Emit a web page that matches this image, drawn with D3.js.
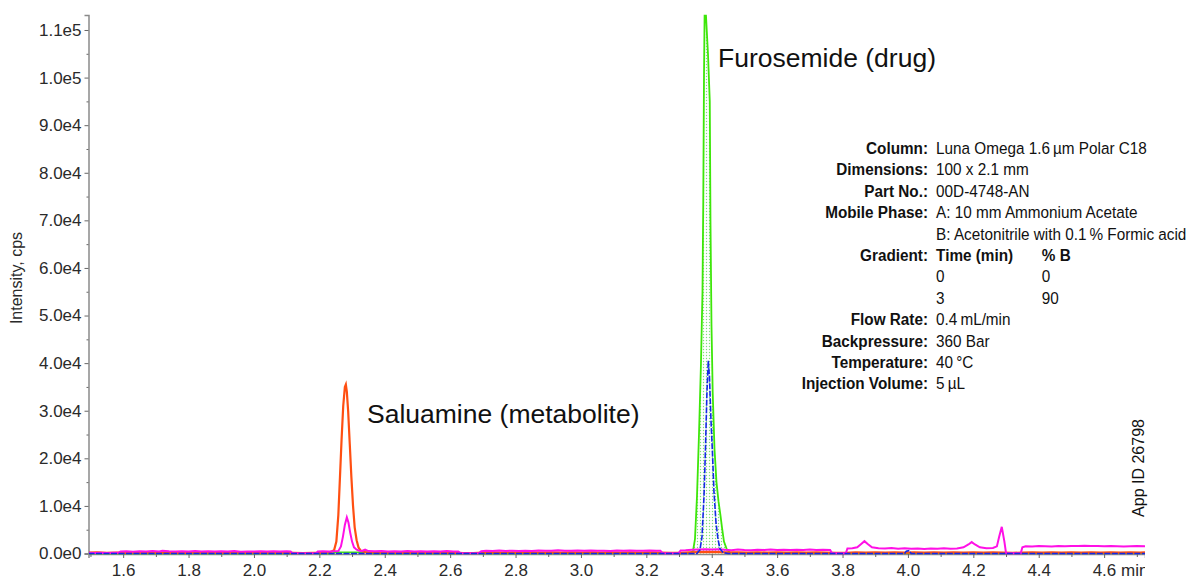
<!DOCTYPE html>
<html>
<head>
<meta charset="utf-8">
<script src="https://cdn.jsdelivr.net/npm/d3@7"></script>
<style>
  body { margin: 0; background: #fff; }
  #chart { width: 1194px; height: 581px; }
  text { font-family: "Liberation Sans", Arial, sans-serif; }
</style>
</head>
<body>
<div id="chart"></div>
<script>
// chromatogram traces, [time (min), intensity (cps)]
var saluamineTrace = [
  [1.494,180],[1.52,220],[1.55,150],[1.58,200],[1.61,140],[1.64,210],[1.67,160],[1.70,230],[1.73,150],[1.76,190],
  [1.79,140],[1.82,220],[1.85,170],[1.88,200],[1.91,140],[1.94,210],[1.97,160],[2.00,190],[2.03,140],[2.06,220],
  [2.09,160],[2.12,120],[2.15,100],[2.18,120],[2.21,180],[2.235,300],[2.245,700],[2.252,2500],[2.258,8000],[2.263,16000],
  [2.268,24000],[2.273,31000],[2.278,35000],[2.281,35500],[2.284,34000],[2.288,30000],[2.293,23000],[2.298,16000],[2.303,10000],[2.308,5500],
  [2.314,2800],[2.320,1200],[2.328,500],[2.34,300],[2.37,220],[2.40,170],[2.43,210],[2.46,150],[2.49,200],[2.52,160],
  [2.55,220],[2.58,150],[2.61,190],[2.64,110],[2.67,100],[2.70,200],[2.73,240],[2.76,170],[2.79,230],[2.82,180],
  [2.85,250],[2.88,190],[2.91,230],[2.94,170],[2.97,240],[3.00,200],[3.03,260],[3.06,190],[3.09,230],[3.12,180],
  [3.15,250],[3.18,200],[3.21,230],[3.24,190],[3.27,120],[3.30,150],[3.33,250],[3.36,300],[3.39,350],[3.42,300],
  [3.45,250],[3.48,220],[3.51,180],[3.54,240],[3.57,200],[3.60,230],[3.63,180],[3.66,250],[3.69,200],[3.72,230],
  [3.75,180],[3.78,130],[3.81,150],[3.84,230],[3.87,200],[3.90,250],[3.93,190],[3.96,230],[3.99,200],[4.02,250],
  [4.05,190],[4.08,230],[4.11,180],[4.14,240],[4.17,200],[4.20,230],[4.23,180],[4.26,240],[4.29,170],[4.32,130],
  [4.35,200],[4.38,250],[4.41,190],[4.44,230],[4.47,180],[4.50,250],[4.53,200],[4.56,230],[4.59,190],[4.62,250],
  [4.65,200],[4.68,230],[4.71,190],[4.725,220]
];

var qualifierTrace = [
  [1.494,150],[1.51,120],[1.53,160],[1.55,130],[1.57,150],[1.585,140],[1.592,420],[1.61,470],[1.63,390],[1.65,450],
  [1.67,410],[1.69,500],[1.71,430],[1.72,560],[1.74,450],[1.76,400],[1.78,480],[1.80,420],[1.82,520],[1.84,440],
  [1.86,470],[1.88,400],[1.90,460],[1.92,420],[1.94,500],[1.96,380],[1.98,430],[2.00,400],[2.02,460],[2.04,410],
  [2.06,480],[2.08,430],[2.10,470],[2.112,420],[2.118,40],[2.15,30],[2.19,40],[2.195,420],[2.21,470],[2.23,400],
  [2.245,450],[2.258,500],[2.266,1500],[2.272,3500],[2.278,6000],[2.284,7600],[2.289,6500],[2.294,4500],[2.300,2500],[2.306,1300],
  [2.314,800],[2.322,600],[2.33,550],[2.34,800],[2.35,500],[2.37,460],[2.39,520],[2.41,430],[2.43,480],[2.45,420],
  [2.47,500],[2.49,440],[2.51,470],[2.53,420],[2.55,480],[2.57,430],[2.59,500],[2.61,440],[2.625,420],[2.632,40],
  [2.66,30],[2.688,40],[2.695,480],[2.71,560],[2.73,500],[2.75,620],[2.77,540],[2.79,600],[2.81,520],[2.83,580],
  [2.85,540],[2.87,620],[2.89,560],[2.91,600],[2.93,680],[2.95,600],[2.97,560],[2.99,640],[3.01,580],[3.03,620],
  [3.05,560],[3.07,600],[3.09,540],[3.11,620],[3.13,580],[3.15,640],[3.17,600],[3.19,560],[3.21,620],[3.23,580],
  [3.243,600],[3.25,40],[3.28,30],[3.298,40],[3.305,650],[3.32,700],[3.34,800],[3.36,850],[3.38,900],[3.40,850],
  [3.42,900],[3.44,780],[3.46,700],[3.48,820],[3.50,740],[3.52,700],[3.54,800],[3.56,760],[3.58,820],[3.60,740],
  [3.62,780],[3.64,720],[3.66,800],[3.68,760],[3.70,820],[3.72,760],[3.74,780],[3.762,760],[3.768,40],[3.79,30],
  [3.81,40],[3.815,1050],[3.83,1100],[3.845,1300],[3.857,2000],[3.867,2600],[3.877,2000],[3.89,1300],[3.91,1100],[3.93,1050],
  [3.95,1150],[3.97,1000],[3.99,1100],[4.01,1000],[4.03,1050],[4.05,950],[4.07,1050],[4.09,1000],[4.11,1100],[4.13,1000],
  [4.15,1050],[4.17,1300],[4.185,1900],[4.195,2400],[4.205,1900],[4.22,1300],[4.24,1100],[4.26,1150],[4.272,1500],[4.279,3500],
  [4.287,5600],[4.295,2500],[4.300,100],[4.302,40],[4.32,30],[4.345,40],[4.35,1300],[4.36,1500],[4.38,1450],[4.40,1550],
  [4.42,1500],[4.44,1450],[4.46,1550],[4.48,1500],[4.50,1550],[4.52,1600],[4.54,1650],[4.56,1600],[4.58,1550],[4.60,1500],
  [4.62,1550],[4.64,1500],[4.66,1450],[4.68,1500],[4.70,1550],[4.725,1500]
];

var furosemideTrace = [
  [1.494,40],[2.24,40],[2.25,220],[2.355,220],[2.365,40],[3.3334,60],[3.3426,500],[3.3487,3000],[3.3549,12000],[3.3610,25000],
  [3.3671,40000],[3.3717,55000],[3.3741,74000],[3.3763,100000],[3.3781,113000],[3.3824,113000],[3.3885,105000],[3.3940,95000],[3.3961,70000],[3.3992,48000],
  [3.4029,34000],[3.4084,22000],[3.4145,15000],[3.4206,11000],[3.4267,8000],[3.4313,5500],[3.4374,2500],[3.4466,800],[3.4558,200],[3.4649,60],
  [4.725,60]
];

var furosemideQualTrace = [
  [1.494,0],[3.3549,0],[3.3640,800],[3.3702,3500],[3.3763,12000],[3.3808,22000],[3.3854,34000],[3.3894,40500],[3.3931,37000],[3.3977,28000],
  [3.4023,21000],[3.4068,13000],[3.4130,6500],[3.4191,3000],[3.4252,1000],[3.4344,200],[3.45,0],[3.99,0],[3.995,500],[4.003,600],
  [4.01,0],[4.725,0]
];

var yTicks = [0, 10000, 20000, 30000, 40000, 50000, 60000, 70000, 80000, 90000, 100000, 110000];
var xTicks = [1.6, 1.8, 2.0, 2.2, 2.4, 2.6, 2.8, 3.0, 3.2, 3.4, 3.6, 3.8, 4.0, 4.2, 4.4, 4.6];
var xTickLabels = ["1.6", "1.8", "2.0", "2.2", "2.4", "2.6", "2.8", "3.0", "3.2", "3.4", "3.6", "3.8", "4.0", "4.2", "4.4", "4.6 min"];

var infoLabels = ["Column:", "Dimensions:", "Part No.:", "Mobile Phase:", "", "Gradient:", "", "", "Flow Rate:", "Backpressure:", "Temperature:", "Injection Volume:"];
var infoValues = ["Luna Omega 1.6\u2009\u00b5m Polar C18", "100 x 2.1 mm", "00D-4748-AN", "A: 10 mm Ammonium Acetate",
  "B: Acetonitrile with 0.1\u2009% Formic acid", "Time (min)", "0", "3", "0.4\u2009mL/min", "360 Bar", "40\u2009\u00b0C", "5\u2009\u00b5L"];
var gradientB = ["% B", "0", "90"];

var width = 1194;
var height = 581;

var svg = d3.select("#chart")
    .append("svg")
    .attr("width", width)
    .attr("height", height);

var x = d3.scaleLinear()
    .domain([1.494, 4.725])
    .range([88.5, 1145]);

var y = d3.scaleLinear()
    .domain([0, 113150])
    .range([553.5, 15]);

var defs = svg.append("defs");

defs.append("clipPath")
    .attr("id", "plotClip")
  .append("rect")
    .attr("x", 89)
    .attr("y", 14)
    .attr("width", 1145 - 89)
    .attr("height", 544);

defs.append("clipPath")
    .attr("id", "plotClipX")
  .append("rect")
    .attr("x", 0)
    .attr("y", -10)
    .attr("width", 1145)
    .attr("height", 40);

var dots = defs.append("pattern")
    .attr("id", "dots")
    .attr("width", 3)
    .attr("height", 3)
    .attr("patternUnits", "userSpaceOnUse");
dots.append("rect").attr("width", 3).attr("height", 3).attr("fill", "#fff");
dots.append("circle").attr("cx", 1.5).attr("cy", 1.5).attr("r", 0.7).attr("fill", "#7ee07a");

// axes
var yAxis = d3.axisLeft(y)
    .tickValues(yTicks)
    .tickSize(4)
    .tickFormat(function(d) { return d3.format(".1e")(d).replace("+", ""); });

var gy = svg.append("g")
    .attr("transform", "translate(88.5,0)")
    .call(yAxis);

var yMinor = d3.axisLeft(y)
    .tickValues(d3.range(5000, 113000, 10000))
    .tickSize(2)
    .tickFormat("");
svg.append("g")
    .attr("class", "minor")
    .attr("transform", "translate(88.5,0)")
    .call(yMinor);

var xAxis = d3.axisBottom(x)
    .tickValues(xTicks)
    .tickSize(4)
    .tickFormat(function(d, i) { return xTickLabels[i]; });

var gx = svg.append("g")
    .attr("transform", "translate(0,554)")
    .attr("clip-path", "url(#plotClipX)")
    .call(xAxis);

var xMinor = d3.axisBottom(x)
    .tickValues([1.5, 1.7, 1.9, 2.1, 2.3, 2.5, 2.7, 2.9, 3.1, 3.3, 3.5, 3.7, 3.9, 4.1, 4.3, 4.5, 4.7])
    .tickSize(3)
    .tickFormat("");
svg.append("g")
    .attr("class", "minor")
    .attr("transform", "translate(0,554)")
    .call(xMinor);

svg.selectAll(".domain").attr("stroke", "#8a8a8a").attr("stroke-width", 1.5);
svg.selectAll(".minor .domain").remove();
svg.selectAll(".tick line").attr("stroke", "#666");

gy.selectAll(".tick text")
    .attr("x", -7)
    .attr("font-size", 17)
    .attr("fill", "#2a2a2a");

gx.selectAll(".tick text")
    .attr("y", 10)
    .attr("font-size", 17)
    .attr("fill", "#2a2a2a");

// last label: number stays centred on its tick, the unit runs off past the plot end
gx.selectAll(".tick text")
    .filter(function(d, i) { return i == xTicks.length - 1; })
    .attr("text-anchor", "start")
    .attr("x", -12);

svg.append("text")
    .attr("transform", "translate(22,278) rotate(-90)")
    .attr("text-anchor", "middle")
    .attr("font-size", 16)
    .attr("fill", "#2a2a2a")
    .text("Intensity, cps");

// traces
var plot = svg.append("g").attr("clip-path", "url(#plotClip)");

var line = d3.line()
    .x(function(d) { return x(d[0]); })
    .y(function(d) { return y(d[1]); });

var area = d3.area()
    .x(function(d) { return x(d[0]); })
    .y0(y(0))
    .y1(function(d) { return y(d[1]); });

plot.append("path")
    .datum(furosemideTrace.filter(function(d) { return d[0] > 3.33 && d[0] < 3.47; }))
    .attr("d", area)
    .attr("fill", "url(#dots)");

plot.append("path")
    .datum(furosemideTrace)
    .attr("d", line)
    .attr("fill", "none")
    .attr("stroke", "#3ee60a")
    .attr("stroke-width", 1.8);

plot.append("path")
    .datum(saluamineTrace)
    .attr("d", line)
    .attr("fill", "none")
    .attr("stroke", "#ff4f12")
    .attr("stroke-width", 2.2);

plot.append("path")
    .datum(qualifierTrace)
    .attr("d", line)
    .attr("fill", "none")
    .attr("stroke", "#ff10e6")
    .attr("stroke-width", 2);

plot.append("path")
    .datum(furosemideQualTrace)
    .attr("d", line)
    .attr("fill", "none")
    .attr("stroke", "#1428e6")
    .attr("stroke-width", 1.6)
    .attr("stroke-dasharray", "6,1.5");

// peak labels
svg.append("text")
    .attr("x", 718)
    .attr("y", 67)
    .attr("font-size", 26.5)
    .attr("fill", "#111")
    .text("Furosemide (drug)");

svg.append("text")
    .attr("x", 367)
    .attr("y", 423)
    .attr("font-size", 26.5)
    .attr("fill", "#111")
    .text("Saluamine (metabolite)");

// method details
var info = svg.append("g")
    .attr("transform", "translate(928,0) scale(0.9,1)");

info.selectAll("text.label")
    .data(infoLabels)
    .enter()
    .append("text")
        .attr("class", "label")
        .attr("x", 0)
        .attr("y", function(d, i) { return 154 + i * 21.4; })
        .attr("text-anchor", "end")
        .attr("font-size", 17)
        .attr("font-weight", "bold")
        .attr("fill", "#111")
        .text(function(d) { return d; });

info.selectAll("text.value")
    .data(infoValues)
    .enter()
    .append("text")
        .attr("class", "value")
        .attr("x", 9)
        .attr("y", function(d, i) { return 154 + i * 21.4; })
        .attr("font-size", 17)
        .attr("font-weight", function(d, i) { return i == 5 ? "bold" : "normal"; })
        .attr("fill", "#111")
        .text(function(d) { return d; });

info.selectAll("text.grad")
    .data(gradientB)
    .enter()
    .append("text")
        .attr("class", "grad")
        .attr("x", 126.5)
        .attr("y", function(d, i) { return 154 + (i + 5) * 21.4; })
        .attr("font-size", 17)
        .attr("font-weight", function(d, i) { return i == 0 ? "bold" : "normal"; })
        .attr("fill", "#111")
        .text(function(d) { return d; });

svg.append("text")
    .attr("transform", "translate(1144,468) rotate(-90)")
    .attr("text-anchor", "middle")
    .attr("font-size", 16)
    .attr("fill", "#111")
    .text("App ID 26798");
</script>
</body>
</html>
